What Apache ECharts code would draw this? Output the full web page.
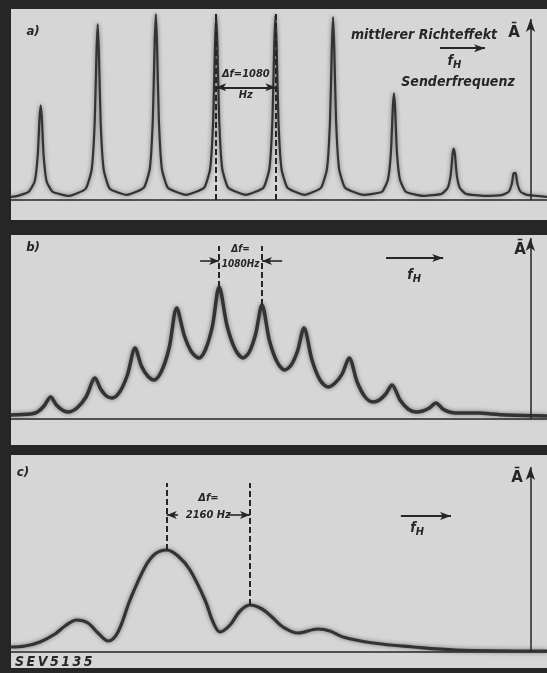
<!DOCTYPE html>
<html><head><meta charset="utf-8">
<script src="https://cdn.jsdelivr.net/npm/echarts@6/dist/echarts.min.js"></script>
<style>html,body{margin:0;padding:0;background:#262626;}#c{width:547px;height:673px;}</style>
</head><body><div id="c"></div><script>
// Panel a) — frequency in kHz (from panel left edge), amplitude in arbitrary units
const aFreq = [0,0.12,0.32,0.43,0.486,0.519,0.541,0.563,0.596,0.651,0.761,1.06,
 1.36,1.47,1.525,1.558,1.58,1.602,1.635,1.69,1.80,2.11,
 2.42,2.53,2.585,2.618,2.64,2.662,2.695,2.75,2.86,3.19,
 3.52,3.63,3.685,3.718,3.74,3.762,3.795,3.85,3.96,4.28,
 4.60,4.71,4.765,4.798,4.82,4.842,4.875,4.93,5.04,5.35,
 5.65,5.76,5.815,5.848,5.87,5.892,5.925,5.98,6.09,6.42,
 6.76,6.87,6.925,6.958,6.98,7.002,7.035,7.09,7.20,7.52,
 7.85,7.96,8.015,8.048,8.07,8.092,8.125,8.18,8.29,8.63,
 8.96,9.07,9.125,9.158,9.18,9.202,9.235,9.29,9.40,9.77];
const aAmp = [3,4,8,18,43,80,94,80,43,18,8,4,
 11,30,76,146,175,146,76,30,11,5,
 12,31,80,154,185,154,80,31,12,5,
 12,31,79,153,184,153,79,31,12,5,
 12,31,79,153,184,153,79,31,12,5,
 12,31,79,151,182,151,79,31,12,5,
 8,20,47,90,106,90,47,20,8,4,
 6,12,25,45,51,45,25,12,6,4,
 5,8,15,26,27,26,15,8,5,3];
// Panel b)
const bFreq = [-1.0,-0.5,-0.333,-0.167,0,0.146,0.291,0.437,0.664,0.892,1.12,1.262,1.405,1.547,1.741,1.936,2.13,
 2.289,2.448,2.607,2.798,2.989,3.18,3.367,3.555,3.742,3.911,4.081,4.25,4.451,4.651,4.852,5.011,5.171,5.33,
 5.522,5.713,5.905,6.067,6.228,6.39,6.592,6.795,6.997,7.175,7.352,7.53,7.731,7.932,8.133,8.292,8.451,8.61,
 8.813,9.015,9.218,9.385,9.553,9.72,9.89,10.06,10.23,10.83,11.1,11.49,12.52];
const bAmp = [4,5,7,13,22,14,9,7,11,22,41,30,23,21,27,44,71,
 53,43,39,48,71,111,84,67,61,70,93,132,93,70,61,67,85,114,
 78,57,49,54,68,91,59,39,32,36,45,61,37,22,17,19,25,34,
 19,10,7,8,11,16,10,7,6,6,5,4,3];
// Panel c)
const cFreq = [0,0.363,0.752,1.141,1.40,1.704,1.997,2.256,2.523,2.775,3.086,3.475,3.734,4.038,4.331,4.642,5.031,
 5.239,5.42,5.68,5.94,6.198,6.51,6.795,7.054,7.443,7.96,8.27,8.61,9.39,10.43,11.54,13.90];
const cAmp = [5,6,10,18,26,32,29,19,11,20,52,85,98,102,96,82,52,30,20,27,41,47,43,34,25,19,23,21,15,9,5,2,1];

// Annotated peak pairs (kHz) and labels
const aPair = [3.74, 4.82];
const bPair = [4.25, 5.33];
const cPair = [4.038, 6.198];
const labelA = ['Δf=1080', 'Hz'];
const labelB = ['Δf=', '1080Hz'];
const labelC = ['Δf=', '2160 Hz'];

// axis ranges per panel
const xRange = [[0, 9.77], [-1.0, 12.52], [0, 13.90]];
const yRange = [[-20, 190], [-26, 184], [-16, 197]];
const axisX = [9.47, 12.10, 13.47];
const axisTop = [180, 181, 185];

const FONT = '"DejaVu Sans Condensed","DejaVu Sans",sans-serif';
const INK = '#262626';
const PANEL = '#d6d6d6';

const zip = (xs, ys) => xs.map((x, i) => [x, ys[i]]);

function seg(p1, p2, opt) {
  opt = opt || {};
  return [
    { coord: p1, symbol: opt.s1 || 'none', symbolSize: opt.ss || [6, 10],
      lineStyle: { color: INK, width: opt.w || 1.5, type: opt.dash ? [6, 3] : 'solid' } },
    { coord: p2, symbol: opt.s2 || 'none', symbolSize: opt.ss || [6, 10] }
  ];
}

const chart = echarts.init(document.getElementById('c'), null, { renderer: 'canvas' });

const grids = [
  { left: 11, right: 0, top: 9, height: 211 },
  { left: 11, right: 0, top: 235, height: 210 },
  { left: 11, right: 0, top: 455, height: 213 }
].map(g => Object.assign(g, { show: true, backgroundColor: PANEL, borderWidth: 0 }));

const xAxes = xRange.map((r, i) => ({
  type: 'value', gridIndex: i, min: r[0], max: r[1],
  axisLine: { show: true, onZero: true, lineStyle: { color: INK, width: 1.5 } },
  axisTick: { show: false }, axisLabel: { show: false }, splitLine: { show: false }
}));
const yAxes = yRange.map((r, i) => ({
  type: 'value', gridIndex: i, min: r[0], max: r[1], show: false, splitLine: { show: false }
}));

function lineSeries(i, data, width, smooth, marks) {
  return {
    type: 'line', xAxisIndex: i, yAxisIndex: i, data: data,
    showSymbol: false, smooth: smooth, animation: false, silent: true,
    lineStyle: { color: '#333', width: width, shadowBlur: 4, shadowColor: 'rgba(30,30,30,0.55)' },
    markLine: {
      silent: true, animation: false, symbol: ['none', 'none'],
      label: { show: false }, emphasis: { disabled: true },
      data: marks
    }
  };
}

const aMarks = [
  seg([axisX[0], 0], [axisX[0], axisTop[0]], { s2: 'arrow', ss: [7, 13] }),
  seg([aPair[0], 0], [aPair[0], 187], { dash: true, w: 2 }),
  seg([aPair[1], 0], [aPair[1], 187], { dash: true, w: 2 }),
  seg([aPair[0], 112], [aPair[1], 112], { s1: 'arrow', s2: 'arrow', w: 1.8 }),
  seg([7.82, 151], [8.64, 151], { s2: 'arrow', w: 1.8, ss: [6, 11] })
];
const bMarks = [
  seg([axisX[1], 0], [axisX[1], axisTop[1]], { s2: 'arrow', ss: [7, 13] }),
  seg([bPair[0], 132], [bPair[0], 173], { dash: true, w: 2 }),
  seg([bPair[1], 114], [bPair[1], 173], { dash: true, w: 2 }),
  seg([3.77, 158], [bPair[0], 158], { s2: 'arrow', w: 1.6 }),
  seg([5.84, 158], [bPair[1], 158], { s2: 'arrow', w: 1.6 }),
  seg([8.46, 161], [9.90, 161], { s2: 'arrow', w: 1.8, ss: [6, 11] })
];
const cMarks = [
  seg([axisX[2], 0], [axisX[2], axisTop[2]], { s2: 'arrow', ss: [7, 13] }),
  seg([cPair[0], 102], [cPair[0], 169], { dash: true, w: 2 }),
  seg([cPair[1], 47], [cPair[1], 169], { dash: true, w: 2 }),
  seg([4.33, 137], [cPair[0], 137], { s2: 'arrow', w: 1.6 }),
  seg([5.63, 137], [cPair[1], 137], { s2: 'arrow', w: 1.6 }),
  seg([10.11, 136], [11.41, 136], { s2: 'arrow', w: 1.8, ss: [6, 11] })
];

chart.setOption({
  backgroundColor: '#262626',
  animation: false,
  grid: grids, xAxis: xAxes, yAxis: yAxes,
  series: [
    lineSeries(0, zip(aFreq, aAmp), 2.2, 0.15, aMarks),
    lineSeries(1, zip(bFreq, bAmp), 3.5, 0.3, bMarks),
    lineSeries(2, zip(cFreq, cAmp), 3.2, 0.35, cMarks)
  ]
});

function P(i, x, v) { return chart.convertToPixel({ xAxisIndex: i, yAxisIndex: i }, [x, v]); }
function txt(pos, text, size, opt) {
  opt = opt || {};
  return {
    type: 'text', x: pos[0], y: pos[1], silent: true,
    style: {
      text: text, fill: INK,
      font: (opt.upright ? '' : 'italic ') + 'bold ' + size + 'px ' + (opt.family || FONT),
      textAlign: opt.align || 'center', textVerticalAlign: 'middle',
      align: opt.align || 'center', verticalAlign: 'middle'
    }
  };
}
function fH(pos, size) {
  return [
    txt([pos[0] - 3, pos[1]], 'f', size),
    txt([pos[0] + 4, pos[1] + 4], 'H', size - 3)
  ];
}
const aMid = (aPair[0] + aPair[1]) / 2, bMid = (bPair[0] + bPair[1]) / 2, cMid = (cPair[0] + cPair[1]) / 2;
const g = [
  txt([33, 32], 'a)', 13),
  txt([33, 248], 'b)', 13),
  txt([23, 473], 'c)', 13),
  txt(P(0, aMid, 125), labelA[0], 11),
  txt(P(0, aMid, 104), labelA[1], 11),
  txt(P(1, bMid, 170), labelB[0], 10),
  txt(P(1, bMid, 155), labelB[1], 10),
  txt(P(2, cMid, 154), labelC[0], 11),
  txt(P(2, cMid, 137), labelC[1], 11),
  txt([424, 35], 'mittlerer Richteffekt', 14),
  txt([458, 82], 'Senderfrequenz', 14),
  txt([514, 33], 'Ā', 15, { upright: true, family: '"DejaVu Sans",sans-serif' }),
  txt([520, 250], 'Ā', 15, { upright: true, family: '"DejaVu Sans",sans-serif' }),
  txt([517, 478], 'Ā', 15, { upright: true, family: '"DejaVu Sans",sans-serif' }),
  txt([15, 662], 'S\u2009E\u2009V\u20095\u20091\u20093\u20095', 14, { align: 'left' })
].concat(fH(P(0, 8.06, 138), 14), fH(P(1, 9.14, 144), 14), fH(P(2, 10.50, 124), 14));
chart.setOption({ graphic: { elements: g } });
</script></body></html>
